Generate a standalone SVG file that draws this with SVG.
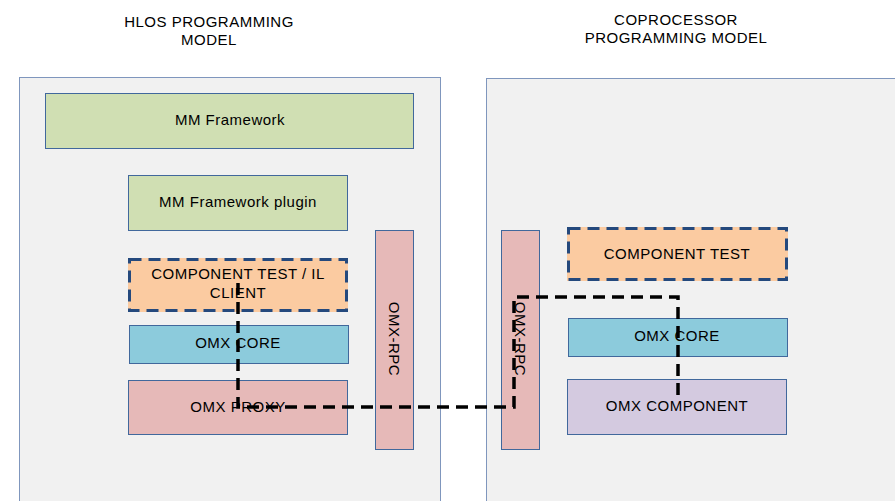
<svg xmlns="http://www.w3.org/2000/svg" width="895" height="501" viewBox="0 0 895 501">
<style>
text{font-family:"Liberation Sans",Arial,sans-serif;font-size:15px;letter-spacing:0.5px;fill:#000;text-anchor:middle}
.panel{fill:#f1f1f1;stroke:#7f96bd;stroke-width:1}
.box{stroke:#41689c;stroke-width:1}
.green{fill:#d0dfb3}
.orange{fill:#fbcba1}
.dash{stroke:#24497d;stroke-width:3;stroke-dasharray:12 7}
.blue{fill:#8ccbdc}
.pink{fill:#e6b9b8}
.purple{fill:#d4cae0}
.conn{fill:none;stroke:#000;stroke-width:3.5;stroke-dasharray:12 7}
</style>
<rect width="895" height="501" fill="#fff"/>
<g id="titles">
<text x="209" y="27">HLOS PROGRAMMING</text>
<text x="209" y="45">MODEL</text>
<text x="676" y="25">COPROCESSOR</text>
<text x="676" y="43">PROGRAMMING MODEL</text>
</g>
<g id="hlos-panel"><rect class="panel" x="19.5" y="77.5" width="421" height="440"/></g>
<g id="coproc-panel"><rect class="panel" x="486.5" y="78.5" width="420" height="440"/></g>
<g id="mm-framework"><rect class="box green" x="45.5" y="93.5" width="368" height="55"/><text x="230" y="125">MM Framework</text></g>
<g id="mm-plugin"><rect class="box green" x="128.5" y="175.5" width="219" height="55"/><text x="238" y="207">MM Framework plugin</text></g>
<g id="component-test-il"><rect class="orange" x="128" y="258" width="220" height="54"/><rect class="dash" fill="none" x="129.5" y="259.5" width="217" height="51"/><text x="238" y="279">COMPONENT TEST / IL</text><text x="238" y="298">CLIENT</text></g>
<g id="omx-core-left"><rect class="box blue" x="129.5" y="325.5" width="219" height="38"/><text x="238" y="348">OMX CORE</text></g>
<g id="omx-proxy"><rect class="box pink" x="128.5" y="380.5" width="219" height="54"/><text x="238" y="412">OMX PROXY</text></g>
<g id="omx-rpc-left"><rect class="box pink" x="375.5" y="230.5" width="38" height="219"/><text transform="translate(389 339) rotate(90)">OMX-RPC</text></g>
<g id="omx-rpc-right"><rect class="box pink" x="501.5" y="230.5" width="38" height="219"/><text transform="translate(515 339) rotate(90)">OMX-RPC</text></g>
<g id="component-test"><rect class="orange" x="567" y="227" width="221" height="54"/><rect class="dash" fill="none" x="568.5" y="228.5" width="218" height="51"/><text x="677" y="259">COMPONENT TEST</text></g>
<g id="omx-core-right"><rect class="box blue" x="568.5" y="318.5" width="219" height="38"/><text x="677" y="341">OMX CORE</text></g>
<g id="omx-component"><rect class="box purple" x="567.5" y="379.5" width="219" height="55"/><text x="677" y="411">OMX COMPONENT</text></g>
<g id="connectors">
<path class="conn" d="M238 283 V407 H514 V297 H678 V398"/>
</g>
</svg>
